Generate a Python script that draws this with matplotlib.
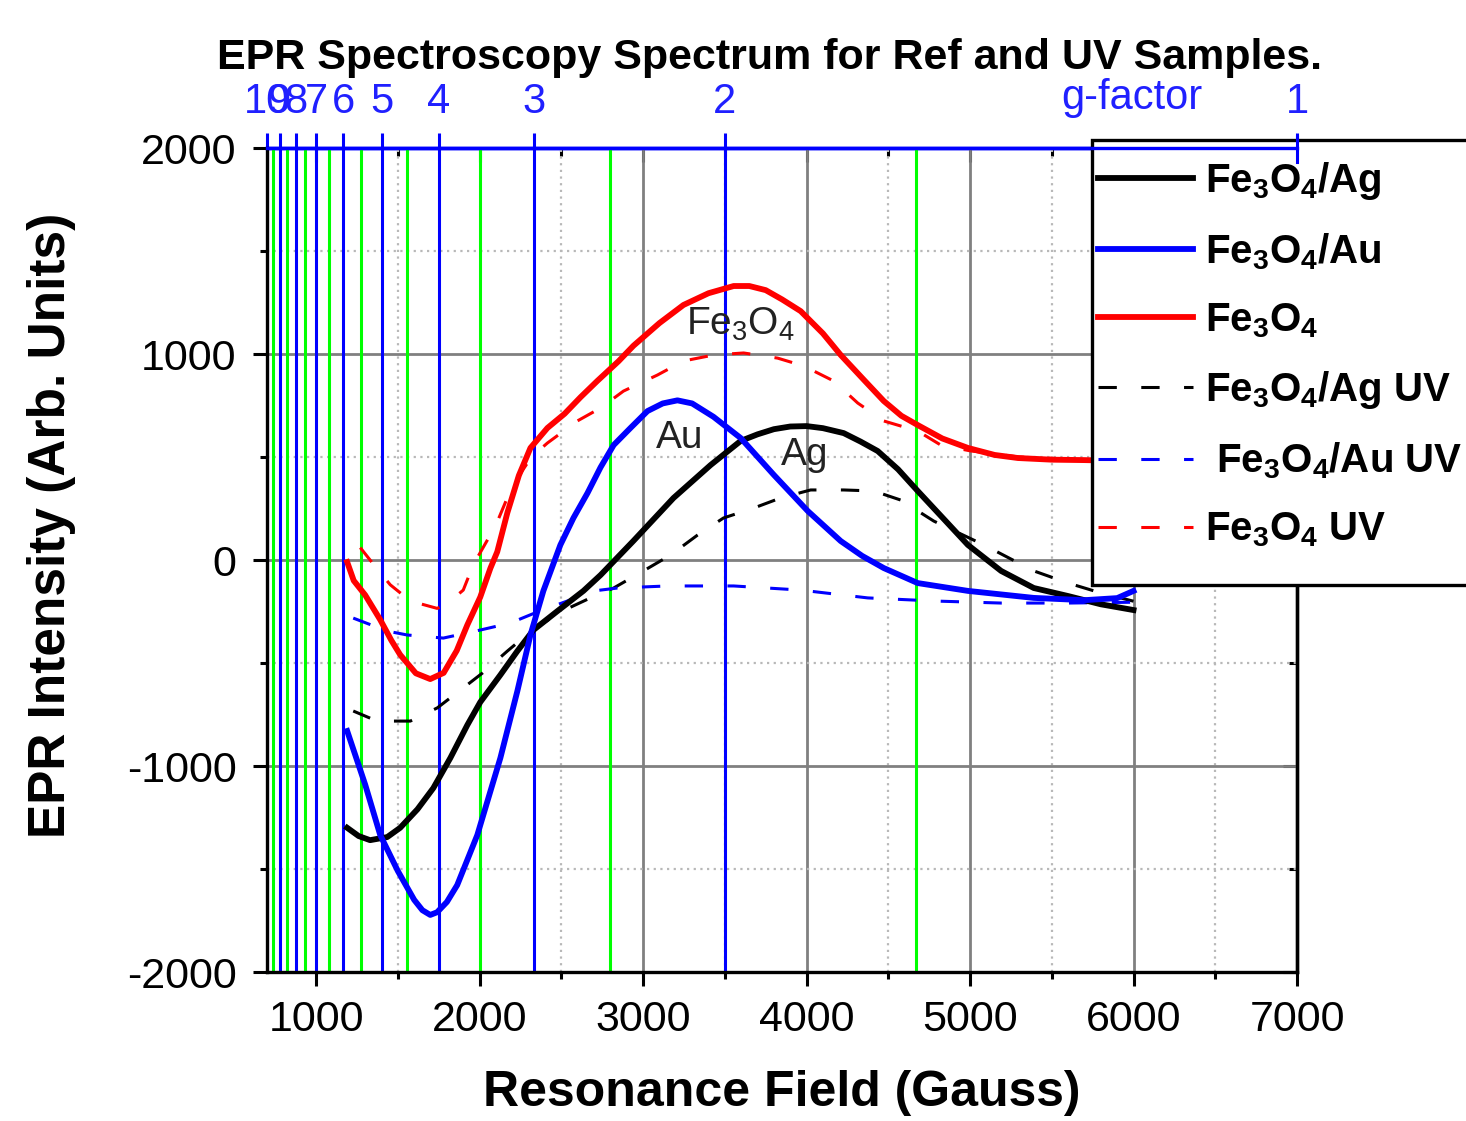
import matplotlib
matplotlib.use("Agg")
import matplotlib.pyplot as plt
from matplotlib.ticker import MultipleLocator, FixedLocator, NullFormatter
from matplotlib.patches import Rectangle
from matplotlib.lines import Line2D
import numpy as np

plt.rcParams['font.family'] = ['Liberation Sans', 'DejaVu Sans']
plt.rcParams['mathtext.default'] = 'regular'
plt.rcParams['axes.unicode_minus'] = False

# ---------------- data ----------------
ag_field = [1190, 1260, 1330, 1435, 1514, 1620, 1717, 1821, 1925, 2004, 2127, 2231, 2329, 2476,
            2635, 2740, 2940, 3186, 3413, 3597, 3700, 3800, 3900, 4000, 4100, 4227, 4330, 4435,
            4560, 4680, 4850, 4987, 5190, 5390, 5600, 5800, 6000]
ag_int = [-1300, -1340, -1360, -1345, -1300, -1210, -1107, -961, -801, -690, -558, -442, -340, -248,
          -150, -73, 92, 301, 461, 578, 610, 635, 648, 650, 640, 616, 575, 529,
          440, 335, 190, 73, -53, -136, -175, -215, -243]

au_field = [1190, 1300, 1392, 1500, 1600, 1650, 1698, 1740, 1800, 1863, 1986, 2127, 2231, 2311,
            2390, 2494, 2574, 2660, 2740, 2820, 2923, 3027, 3120, 3210, 3300, 3431, 3597, 3800,
            4007, 4209, 4340, 4472, 4680, 4987, 5390, 5700, 5900, 6000]
au_int = [-830, -1090, -1335, -1510, -1650, -1700, -1723, -1710, -1660, -1578, -1335, -961, -636, -364,
          -150, 73, 204, 325, 450, 558, 641, 723, 760, 775, 760, 695, 592, 413,
          238, 92, 20, -39, -112, -150, -184, -195, -185, -150]

fe_field = [1190, 1230, 1300, 1392, 1460, 1514, 1610, 1698, 1780, 1860, 1925, 2004, 2066, 2108,
            2170, 2240, 2311, 2415, 2520, 2617, 2721, 2850, 2941, 3100, 3247, 3400, 3554, 3650,
            3750, 3850, 3964, 4100, 4209, 4350, 4472, 4580, 4680, 4830, 4987, 5150, 5293, 5500,
            5697, 6000]
fe_int = [-10, -100, -170, -290, -390, -460, -550, -578, -548, -440, -315, -180, -40, 40,
          230, 410, 544, 641, 710, 790, 870, 965, 1040, 1150, 1238, 1295, 1330, 1330,
          1310, 1265, 1208, 1100, 995, 875, 772, 700, 655, 590, 544, 510, 495, 487,
          485, 480]

aguv_field = [1227, 1373, 1576, 1741, 1900, 2017, 2170, 2323, 2500, 2678, 2820, 3002, 3168, 3333,
              3492, 3676, 3841, 4025, 4227, 4411, 4576, 4778, 5085, 5390, 5600, 5800, 6000]
aguv_int = [-733, -782, -782, -718, -621, -549, -442, -340, -250, -184, -136, -53, 24, 121,
            204, 252, 301, 340, 340, 335, 291, 189, 73, -53, -112, -160, -200]

auuv_field = [1227, 1435, 1557, 1778, 2004, 2188, 2360, 2537, 2700, 2843, 3150, 3554, 3964, 4374,
              4778, 5190, 5600, 6000]
auuv_int = [-282, -345, -364, -379, -340, -306, -250, -199, -150, -136, -126, -126, -146, -184,
            -199, -209, -209, -205]

feuv_field = [1270, 1350, 1453, 1576, 1741, 1820, 1900, 1961, 2100, 2200, 2317, 2415, 2598, 2740,
              2880, 3088, 3247, 3431, 3615, 3823, 3982, 4166, 4313, 4472, 4680, 4821, 5000, 5300,
              5600, 6000]
feuv_int = [60, -20, -120, -199, -235, -200, -146, -24, 170, 360, 500, 568, 675, 738,
            820, 898, 966, 995, 1005, 980, 942, 869, 762, 675, 626, 558, 530, 500,
            490, 480]

labels = ["Fe$_3$O$_4$/Ag", "Fe$_3$O$_4$/Au", "Fe$_3$O$_4$",
          "Fe$_3$O$_4$/Ag UV", " Fe$_3$O$_4$/Au UV", "Fe$_3$O$_4$ UV"]

g_const = 7000.0          # h*nu/mu_B in Gauss
g_major = [1, 2, 3, 4, 5, 6, 7, 8, 9, 10]
g_lines_blue = [2, 3, 4, 5, 6, 7, 8, 9, 10]
g_lines_green = [1.5, 2.5, 3.5, 4.5, 5.5, 6.5, 7.5, 8.5, 9.5]

# ---------------- figure ----------------
W, H = 1466, 1121
fig = plt.figure(figsize=(W / 100, H / 100), dpi=100)
ax = fig.add_axes([267 / W, 1 - 972 / H, (1297 - 267) / W, (972 - 148) / H])

ax.set_xlim(699.5, 7000)
ax.set_ylim(-2000, 2000)

ax.xaxis.set_major_locator(MultipleLocator(1000))
ax.xaxis.set_minor_locator(MultipleLocator(500))
ax.yaxis.set_major_locator(MultipleLocator(1000))
ax.yaxis.set_minor_locator(MultipleLocator(500))

ax.grid(True, which='major', color='#808080', lw=2, zorder=0)
ax.grid(True, which='minor', color='#b8b8b8', lw=1.6, linestyle=(0, (1, 2)), zorder=0)
ax.set_axisbelow(True)

for g in g_lines_green:
    ax.axvline(g_const / g, color='#00ff00', lw=2.2, zorder=1)
for g in g_lines_blue:
    ax.axvline(g_const / g, color='#0000ff', lw=2.2, zorder=1)

solid_lw = 4.2
dash_lw = 2.2
dash = (0, (6, 8))
l1, = ax.plot(ag_field, ag_int, color='black', lw=solid_lw, zorder=4)
l2, = ax.plot(au_field, au_int, color='#0000ff', lw=solid_lw, zorder=4)
l3, = ax.plot(fe_field, fe_int, color='#ff0000', lw=solid_lw, zorder=4)
l4, = ax.plot(aguv_field, aguv_int, color='black', lw=dash_lw, linestyle=dash, zorder=3)
l5, = ax.plot(auuv_field, auuv_int, color='#0000ff', lw=dash_lw, linestyle=dash, zorder=3)
l6, = ax.plot(feuv_field, feuv_int, color='#ff0000', lw=dash_lw, linestyle=dash, zorder=3)

# annotations
ax.text(3265, 1092, "Fe$_3$O$_4$", fontsize=28, color='#222222', zorder=5)
ax.text(3076, 544, "Au", fontsize=28, color='#222222', zorder=5)
ax.text(3841, 461, "Ag", fontsize=28, color='#222222', zorder=5)

# spines and ticks
for s in ['left', 'bottom', 'right']:
    ax.spines[s].set_linewidth(2.4)
    ax.spines[s].set_color('black')
ax.spines['top'].set_linewidth(2.4)
ax.spines['top'].set_color('#0000ff')
ax.tick_params(axis='both', which='major', labelsize=31, width=2.2, length=10, direction='out', pad=10)
ax.tick_params(axis='both', which='minor', width=2.2, length=5, direction='out')
ax.tick_params(axis='y', which='major', pad=12)
ax.tick_params(top=False, right=False, which='both')

# inward ticks on right side
rax = ax.secondary_yaxis('right')
rax.yaxis.set_major_locator(MultipleLocator(1000))
rax.yaxis.set_minor_locator(MultipleLocator(500))
rax.yaxis.set_major_formatter(NullFormatter())
rax.tick_params(which='major', direction='in', length=10, width=2.2)
rax.tick_params(which='minor', direction='in', length=6, width=2.2)
rax.spines['right'].set_linewidth(2.4)

# inward black ticks at top (field axis)
tax = ax.secondary_xaxis('top')
tax.xaxis.set_major_locator(MultipleLocator(1000))
tax.xaxis.set_minor_locator(MultipleLocator(500))
tax.xaxis.set_major_formatter(NullFormatter())
tax.tick_params(which='major', direction='in', length=10, width=2.2, colors='black')
tax.tick_params(which='minor', direction='in', length=6, width=2.2, colors='black')
tax.spines['top'].set_color('#0000ff')
tax.spines['top'].set_linewidth(2.4)

# top g-factor axis
secax = ax.secondary_xaxis('top', functions=(lambda B: g_const / np.maximum(np.abs(B), 1e-9),
                                             lambda gg: g_const / np.maximum(np.abs(gg), 1e-9)))
secax.xaxis.set_major_locator(FixedLocator(g_major))
secax.xaxis.set_minor_locator(FixedLocator([]))
secax.set_xticklabels([str(g) for g in g_major])
secax.tick_params(axis='x', which='major', colors='#0000ff', labelcolor='#2020ff',
                  labelsize=30, width=2.2, length=11, direction='out', pad=8)
secax.spines['top'].set_color('#0000ff')
secax.spines['top'].set_linewidth(2.4)
fig.text(1132 / W, 1 - 98 / H, "g-factor", color='#2020ff', fontsize=30, ha='center', va='center')

ax.set_xlabel("Resonance Field (Gauss)", fontsize=36, fontweight='bold', labelpad=22)
ax.set_ylabel("EPR Intensity (Arb. Units)", fontsize=37, fontweight='bold')
ax.yaxis.set_label_coords((52 - 267) / 1030, (972 - 525) / 824)
ax.yaxis.label.set_verticalalignment('center')
fig.text(770 / W, 1 - 58 / H, "EPR Spectroscopy Spectrum for Ref and UV Samples.",
         fontsize=31, fontweight='bold', ha='center', va='center')

# legend box (extends past the figure edge as in the original)
frame = Rectangle((1092 / W, 1 - 585 / H), (1520 - 1092) / W, (585 - 140) / H,
                  transform=fig.transFigure, facecolor='white', edgecolor='black',
                  lw=2.4, zorder=9)
fig.add_artist(frame)
leg = fig.legend([l1, l2, l3, l4, l5, l6], labels,
                 loc='upper left', bbox_to_anchor=(1098 / W, 1 - 160 / H),
                 bbox_transform=fig.transFigure, borderaxespad=0, borderpad=0,
                 prop={'size': 29, 'weight': 'bold'}, handlelength=2.35, handletextpad=0.3,
                 labelspacing=0.73, frameon=False)
leg.set_zorder(10)
# the blue top spine and g=1 tick run over the legend box in the original
fig.add_artist(Line2D([1092 / W, 1297 / W], [1 - 148 / H, 1 - 148 / H], color='#0000ff',
                      lw=2.4, zorder=11))
fig.add_artist(Line2D([1297 / W, 1297 / W], [1 - 137 / H, 1 - 162 / H], color='#0000ff',
                      lw=2.2, zorder=11))

fig.savefig("out.png", dpi=100)
